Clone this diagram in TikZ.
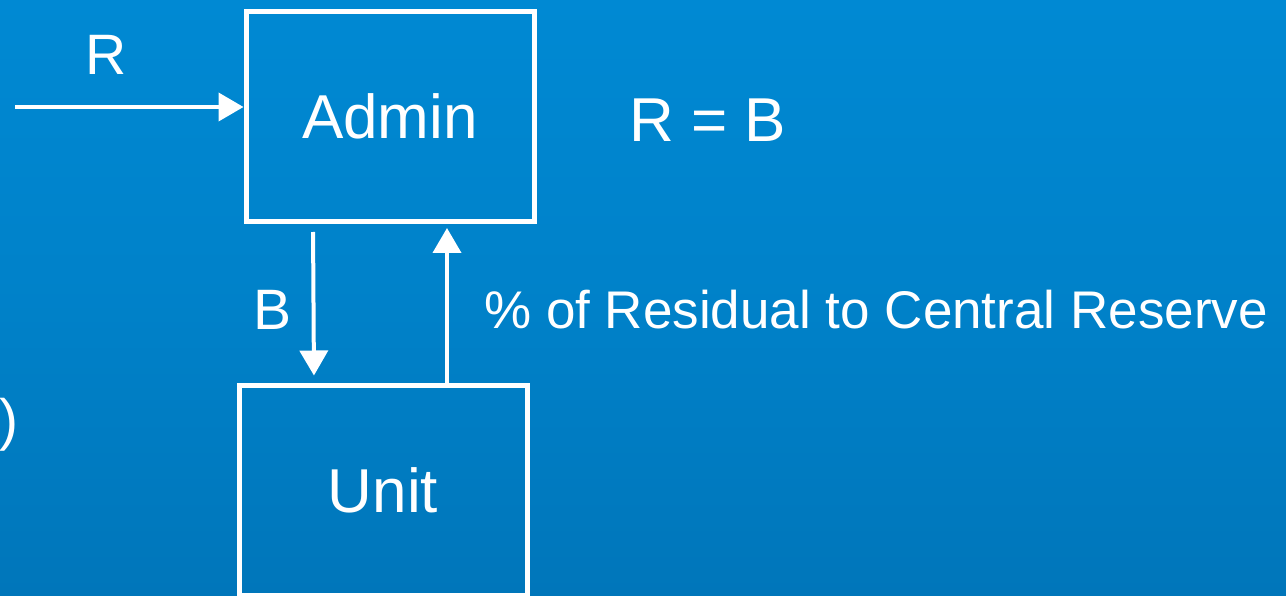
\documentclass[tikz,border=0pt]{standalone}
\usepackage{fontspec}
\setmainfont{Liberation Sans}
\usetikzlibrary{arrows.meta}
\definecolor{bgtop}{HTML}{0089D3}
\definecolor{bgbot}{HTML}{0076BA}
\tikzset{
  box/.style={draw=white, line width=5pt, minimum width=288pt, minimum height=210pt, inner sep=0pt, text=white, font=\fontsize{62}{70}\selectfont},
  big/.style={text=white, inner sep=0pt, font=\fontsize{62}{70}\selectfont},
  lab/.style={text=white, inner sep=0pt, font=\fontsize{57}{64}\selectfont},
  lab2/.style={text=white, inner sep=0pt, font=\fontsize{53}{60}\selectfont},
  arr/.style={white, line width=4pt, -{Triangle[length=25pt,width=28pt]}}
}
\begin{document}
\begin{tikzpicture}[x=1pt,y=-1pt]
\useasboundingbox (0,0) rectangle (1286,596);
\shade[top color=bgtop, bottom color=bgbot, middle color=bgtop!60!bgbot] (0,0) rectangle (1286,596);
\begin{scope}
\clip (0,0) rectangle (1286,596);
\node[box] (admin) at (390,116.5) {Admin};
\node[box] (unit) at (383,490) {Unit};
\node[lab, anchor=east] (ytxt) at (19,425) {y)};
\end{scope}
\node[lab] (r) at (106,55) {R};
\node[big] (rb) at (708,120) {R = B};
\node[lab] (b) at (273,310) {B};
\node[lab2, anchor=west] (pct) at (484,310) {\% of Residual to Central Reserve};
\coordinate (rstart) at (15,107);
\draw[arr] (rstart) -- (admin.west |- rstart);
\draw[arr, shorten <=8pt, shorten >=7pt] (admin.south -| 313,0) -- (unit.north -| 314,0);
\draw[arr, shorten >=4pt] (unit.north -| 447,0) -- (admin.south -| 447,0);
\end{tikzpicture}
\end{document}
